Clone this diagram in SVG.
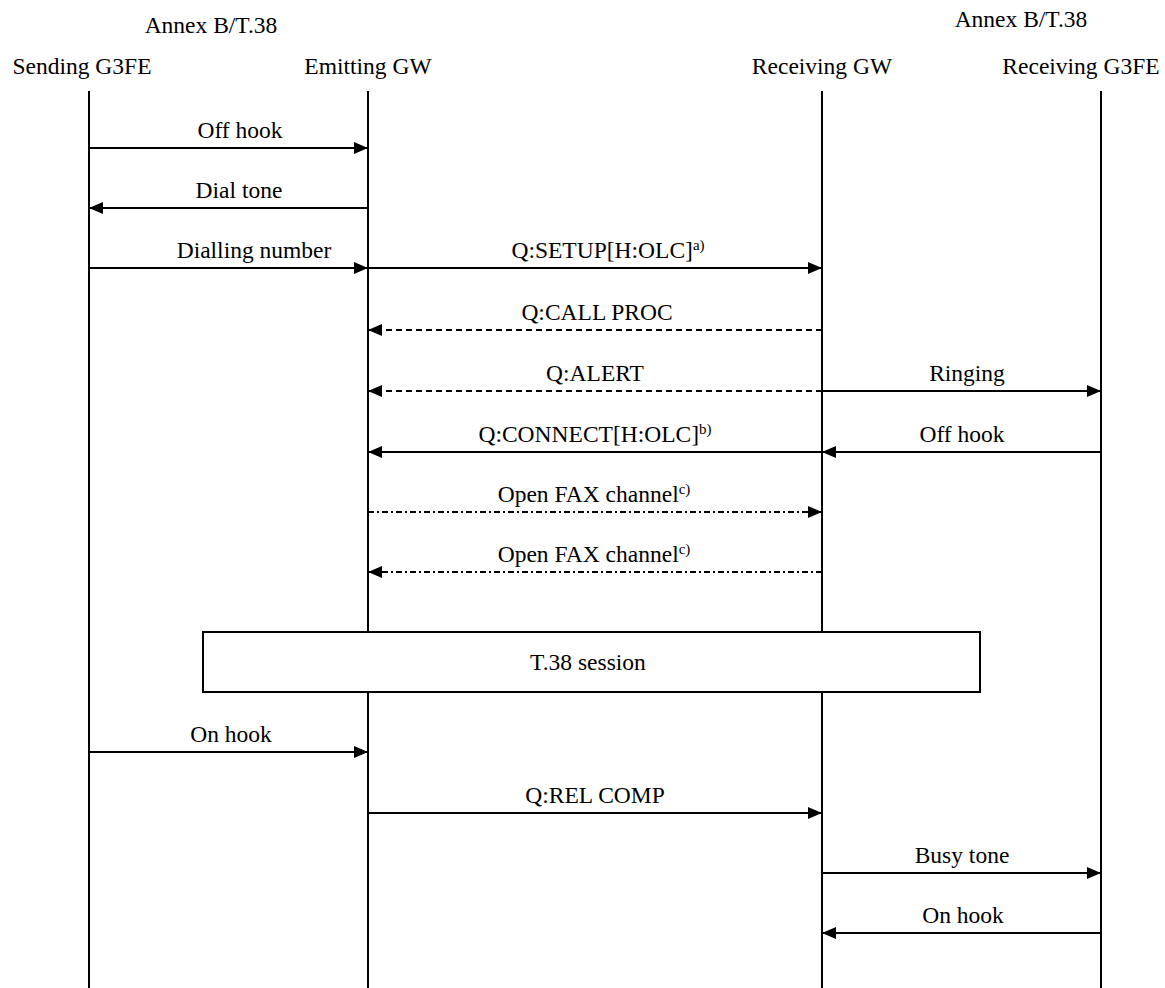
<svg xmlns="http://www.w3.org/2000/svg" width="1165" height="988" viewBox="0 0 1165 988">
  <style>
    text { font-family: "Liberation Serif", "Times New Roman", serif; font-size: 23.5px; fill: #000; }
    .c { text-anchor: middle; }
    .life { stroke: #000; stroke-width: 2; fill: none; }
    .msg { stroke: #000; stroke-width: 2; fill: none; }
    .dash { stroke-dasharray: 6 4; }
    .dashdot { stroke-dasharray: 6 3 2 3; }
    .sup { font-size: 15px; }
  </style>
  <defs>
    <marker id="arrow" viewBox="0 0 14 12" refX="14" refY="6" markerWidth="14" markerHeight="12" markerUnits="userSpaceOnUse" orient="auto">
      <path d="M0,0 L14,6 L0,12 Z" fill="#000"/>
    </marker>
  </defs>

  <rect width="1165" height="988" fill="#fff"/>

  <!-- participants -->
  <g id="sending-g3fe">
    <text class="c" x="211" y="33">Annex B/T.38</text>
    <text class="c" x="82" y="74">Sending G3FE</text>
    <line class="life" x1="89" y1="91" x2="89" y2="988"/>
  </g>
  <g id="emitting-gw">
    <text class="c" x="368" y="74">Emitting GW</text>
    <line class="life" x1="368" y1="91" x2="368" y2="632"/>
    <line class="life" x1="368" y1="692" x2="368" y2="988"/>
  </g>
  <g id="receiving-gw">
    <text class="c" x="822" y="74">Receiving GW</text>
    <line class="life" x1="822" y1="91" x2="822" y2="632"/>
    <line class="life" x1="822" y1="692" x2="822" y2="988"/>
  </g>
  <g id="receiving-g3fe">
    <text class="c" x="1021" y="27">Annex B/T.38</text>
    <text class="c" x="1081" y="74">Receiving G3FE</text>
    <line class="life" x1="1101" y1="91" x2="1101" y2="988"/>
  </g>

  <g id="t38-session">
    <rect x="203" y="632" width="777" height="60" fill="#fff" stroke="#000" stroke-width="2"/>
    <text class="c" x="588" y="670">T.38 session</text>
  </g>

  <!-- messages -->
  <g id="connectors">
    <line class="msg" x1="89" y1="148" x2="368" y2="148" marker-end="url(#arrow)"/>
    <line class="msg" x1="368" y1="208" x2="89" y2="208" marker-end="url(#arrow)"/>
    <line class="msg" x1="89" y1="268" x2="368" y2="268" marker-end="url(#arrow)"/>
    <line class="msg" x1="368" y1="268" x2="822" y2="268" marker-end="url(#arrow)"/>
    <line class="msg dash" x1="822" y1="330" x2="368" y2="330" marker-end="url(#arrow)"/>
    <line class="msg dash" x1="822" y1="391" x2="368" y2="391" marker-end="url(#arrow)"/>
    <line class="msg" x1="822" y1="391" x2="1101" y2="391" marker-end="url(#arrow)"/>
    <line class="msg" x1="822" y1="452" x2="368" y2="452" marker-end="url(#arrow)"/>
    <line class="msg" x1="1101" y1="452" x2="822" y2="452" marker-end="url(#arrow)"/>
    <line class="msg dashdot" x1="368" y1="512" x2="822" y2="512" marker-end="url(#arrow)"/>
    <line class="msg dashdot" x1="822" y1="572" x2="368" y2="572" marker-end="url(#arrow)"/>
    <line class="msg" x1="89" y1="752" x2="368" y2="752" marker-end="url(#arrow)"/>
    <line class="msg" x1="368" y1="813" x2="822" y2="813" marker-end="url(#arrow)"/>
    <line class="msg" x1="822" y1="873" x2="1101" y2="873" marker-end="url(#arrow)"/>
    <line class="msg" x1="1101" y1="933" x2="822" y2="933" marker-end="url(#arrow)"/>
  </g>

  <!-- message labels -->
  <g id="labels">
    <text class="c" x="240" y="138">Off hook</text>
    <text class="c" x="239" y="198">Dial tone</text>
    <text class="c" x="254" y="258">Dialling number</text>
    <text class="c" x="608" y="258">Q:SETUP[H:OLC]<tspan class="sup" dy="-8">a)</tspan></text>
    <text class="c" x="597" y="320">Q:CALL PROC</text>
    <text class="c" x="595" y="381">Q:ALERT</text>
    <text class="c" x="967" y="381">Ringing</text>
    <text class="c" x="595" y="442">Q:CONNECT[H:OLC]<tspan class="sup" dy="-8">b)</tspan></text>
    <text class="c" x="962" y="442">Off hook</text>
    <text class="c" x="594" y="502">Open FAX channel<tspan class="sup" dy="-8">c)</tspan></text>
    <text class="c" x="594" y="562">Open FAX channel<tspan class="sup" dy="-8">c)</tspan></text>
    <text class="c" x="231" y="742">On hook</text>
    <text class="c" x="595" y="803">Q:REL COMP</text>
    <text class="c" x="962" y="863">Busy tone</text>
    <text class="c" x="963" y="923">On hook</text>
  </g>
</svg>
